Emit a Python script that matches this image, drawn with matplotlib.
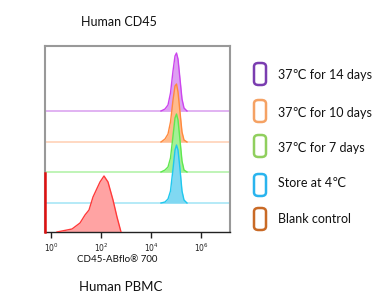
import numpy as np
import matplotlib
matplotlib.use("Agg")
import matplotlib.pyplot as plt
from matplotlib.patches import FancyBboxPatch

plt.rcParams['font.family'] = ['Lato', 'DejaVu Sans']

# legend / condition names, top to bottom
conditions = ['37\u2103 for 14 days', '37\u2103 for 10 days', '37\u2103 for 7 days',
              'Store at 4\u2103', 'Blank control']

# stained peaks (log10 intensity vs. scaled count)
peak_logx = [4.40, 4.56, 4.68, 4.78, 4.88, 4.96, 5.02, 5.08, 5.16, 5.24, 5.32, 5.44]
purple_h = [0, 2, 6, 18, 40, 55, 58, 52, 32, 12, 3, 0]
orange_h = [0, 3, 8, 20, 42, 56, 58, 50, 30, 10, 2, 0]
green_h = [0, 2, 5, 14, 36, 54, 58, 52, 32, 11, 2, 0]
blue_h = [0, 1, 4, 12, 34, 53, 58, 53, 34, 12, 3, 0]

# blank control
blank_logx = [0.24, 0.84, 1.16, 1.36, 1.52, 1.68, 1.96, 2.12, 2.28, 2.48, 2.64, 2.80]
blank_h = [0, 3, 9, 17, 22, 35, 50, 56, 50, 32, 15, 0]
blank_zero_h = 59

offsets = [121, 90, 60, 29, 0]

line_cols = ['#cc44ee', '#ff8a3d', '#5fe84f', '#1fc8ee', '#ff3a3a']
fill_cols = ['#dea0f2', '#ffbb8c', '#a4f096', '#80d8f2', '#ffa3a3']
base_cols = ['#dca6f0', '#ffd2b8', '#b4f2aa', '#a8e6f6', '#ff9c9c']
box_cols = ['#7a3db0', '#f5a264', '#90cf5e', '#2ab4ee', '#c96a26']

fig = plt.figure(figsize=(3.82, 2.99), dpi=100)
ax = fig.add_axes([45/382, 67/299, 185/382, 186/299])

xmin, xmax = -0.24, 7.16
heights = [purple_h, orange_h, green_h, blue_h]
for i, h in enumerate(heights):
    x = 10 ** np.array(peak_logx)
    y = np.array(h) + offsets[i]
    ax.axhline(offsets[i], color=base_cols[i], lw=1.2, zorder=1)
    ax.fill_between(x, offsets[i], y, color=fill_cols[i], lw=0, zorder=2)
    ax.plot(x, y, color=line_cols[i], lw=1.0, zorder=3)

bx = 10 ** np.array(blank_logx)
ax.fill_between(bx, 0, blank_h, color=fill_cols[4], lw=0, zorder=2)
ax.plot(bx, blank_h, color=line_cols[4], lw=1.0, zorder=3)
ax.plot([10 ** xmin, 10 ** xmin], [0, blank_zero_h], color='#e01010', lw=1.8,
        zorder=4, clip_on=False)

ax.set_xscale('log')
ax.set_xlim(10 ** xmin, 10 ** xmax)
ax.set_ylim(0, 186)
ax.set_yticks([])
ax.set_xticks([1, 1e2, 1e4, 1e6])
ax.set_xticklabels([r'$10^0$', r'$10^2$', r'$10^4$', r'$10^6$'], fontsize=5.5)
ax.xaxis.set_minor_locator(matplotlib.ticker.LogLocator(base=10, subs=np.arange(2, 10)))
ax.xaxis.set_minor_formatter(matplotlib.ticker.NullFormatter())
ax.tick_params(axis='x', which='major', length=4, width=1, pad=3, colors='#222222')
ax.tick_params(axis='x', which='minor', length=2.5, width=0.8, colors='#222222')
for s in ['left', 'right', 'top']:
    ax.spines[s].set_color('#999999')
    ax.spines[s].set_linewidth(1.5)
ax.spines['bottom'].set_color('#222222')
ax.spines['bottom'].set_linewidth(1.0)

fig.text(119/382, 1 - 22/299, 'Human CD45', ha='center', va='center', fontsize=9, color='#111111')
fig.text(117/382, 1 - 260/299, 'CD45-ABflo\u00ae 700', ha='center', va='center', fontsize=7, color='#111111')
fig.text(121/382, 1 - 287/299, 'Human PBMC', ha='center', va='center', fontsize=9.5, color='#111111')

box_y = [74, 111, 146, 185, 219]
text_y = [75, 113, 148, 183, 219]
for i, name in enumerate(conditions):
    w, h = 12 / 382, 22 / 299
    b = FancyBboxPatch((254 / 382, 1 - box_y[i] / 299 - h / 2), w, h,
                       boxstyle='round,pad=0,rounding_size=0.012',
                       transform=fig.transFigure, fc='white', ec=box_cols[i], lw=1.8)
    fig.patches.append(b)
    fig.text(278 / 382, 1 - text_y[i] / 299, name, ha='left', va='center',
             fontsize=9, color='#111111')

fig.savefig('out.png', dpi=100)
